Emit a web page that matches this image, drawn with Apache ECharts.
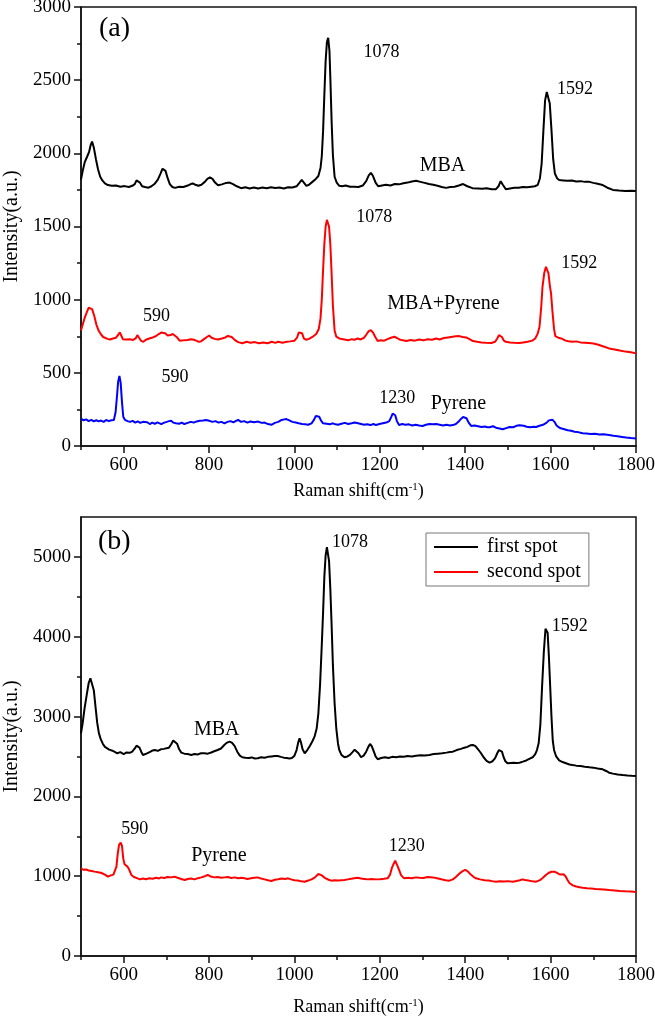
<!DOCTYPE html>
<html><head><meta charset="utf-8">
<script src="https://cdn.jsdelivr.net/npm/echarts@6/dist/echarts.min.js"></script>
<style>html,body{margin:0;padding:0;background:#fff}#c{width:655px;height:1020px}</style>
</head><body><div id="c"></div>
<script>
// ---------- tick values ----------
const xMajorTicks = [600, 800, 1000, 1200, 1400, 1600, 1800];
const xMinorTicks = [500, 700, 900, 1100, 1300, 1500, 1700];
const yMajorA = [0, 500, 1000, 1500, 2000, 2500, 3000];
const yMinorA = [250, 750, 1250, 1750, 2250, 2750];
const yMajorB = [0, 1000, 2000, 3000, 4000, 5000];
const yMinorB = [500, 1500, 2500, 3500, 4500];

// ---------- panel (a) series ----------
const mbaA = [[500,1820],[504,1880],[509,1942],[514,1975],[519,2010],[523,2060],[526,2080],[530,2040],[535,1960],[540,1890],[545,1840],[550,1815],[556,1795],[563,1783],[572,1778],[582,1780],[592,1772],[602,1776],[612,1770],[620,1778],[626,1790],[630,1815],[634,1824],[638,1800],[643,1775],[650,1770],[658,1765],[665,1775],[672,1790],[680,1820],[686,1860],[691,1895],[694,1908],[698,1880],[703,1830],[708,1790],[714,1770],[720,1764],[730,1772],[740,1770],[750,1780],[757,1790],[762,1794],[768,1785],[775,1778],[782,1785],[790,1805],[796,1825],[802,1835],[808,1825],[814,1800],[821,1782],[830,1788],[840,1798],[848,1800],[856,1790],[865,1775],[875,1762],[885,1768],[895,1760],[905,1766],[915,1760],[925,1766],[935,1762],[945,1768],[955,1763],[965,1766],[975,1760],[985,1768],[995,1766],[1005,1775],[1012,1800],[1017,1818],[1022,1800],[1028,1778],[1034,1785],[1042,1805],[1050,1825],[1056,1845],[1061,1900],[1064,1980],[1067,2150],[1070,2400],[1073,2630],[1076,2760],[1079,2790],[1082,2700],[1084,2520],[1087,2220],[1090,1990],[1094,1840],[1099,1800],[1105,1778],[1112,1775],[1120,1780],[1130,1772],[1140,1772],[1150,1770],[1160,1780],[1168,1810],[1174,1850],[1179,1867],[1184,1845],[1190,1800],[1196,1775],[1205,1780],[1214,1785],[1225,1780],[1235,1790],[1245,1788],[1255,1795],[1265,1800],[1275,1808],[1285,1812],[1295,1805],[1305,1798],[1315,1790],[1325,1785],[1335,1778],[1345,1770],[1355,1764],[1365,1770],[1375,1772],[1385,1780],[1395,1790],[1405,1775],[1417,1762],[1430,1760],[1440,1758],[1450,1762],[1462,1755],[1472,1755],[1478,1775],[1483,1810],[1488,1785],[1495,1755],[1505,1760],[1515,1765],[1525,1765],[1535,1770],[1545,1768],[1555,1772],[1563,1775],[1570,1785],[1575,1830],[1579,1930],[1583,2150],[1587,2360],[1591,2420],[1594,2420],[1598,2340],[1602,2160],[1606,1960],[1610,1862],[1615,1830],[1620,1818],[1630,1815],[1640,1812],[1650,1814],[1660,1808],[1670,1810],[1680,1805],[1691,1805],[1700,1798],[1710,1792],[1722,1783],[1733,1765],[1746,1750],[1760,1746],[1775,1742],[1790,1744],[1800,1742]];

const mbaPyreneA = [[500,790],[504,830],[508,870],[513,910],[518,945],[522,950],[526,935],[531,890],[536,830],[541,790],[547,762],[552,745],[556,735],[562,732],[568,728],[575,735],[582,740],[587,760],[591,776],[595,750],[598,730],[605,728],[614,730],[622,725],[628,735],[632,758],[636,740],[641,718],[646,712],[652,726],[660,735],[668,742],[675,750],[682,765],[688,775],[692,781],[697,770],[703,755],[710,758],[715,766],[719,770],[724,745],[731,720],[740,722],[750,725],[757,730],[762,728],[770,720],[776,712],[781,715],[788,730],[795,745],[800,755],[806,740],[813,732],[821,728],[830,735],[838,742],[844,752],[848,755],[853,745],[860,725],[868,710],[878,702],[888,712],[897,705],[907,710],[917,702],[927,708],[937,702],[947,712],[955,705],[962,712],[972,706],[982,712],[990,715],[1000,720],[1006,740],[1010,775],[1014,788],[1018,770],[1022,735],[1027,726],[1034,732],[1042,745],[1051,765],[1057,800],[1061,872],[1064,1000],[1067,1202],[1070,1380],[1073,1500],[1076,1545],[1078,1550],[1081,1500],[1084,1380],[1087,1180],[1090,960],[1094,790],[1098,747],[1105,735],[1117,728],[1126,722],[1134,730],[1141,726],[1148,735],[1155,728],[1162,738],[1168,760],[1174,785],[1179,792],[1184,775],[1190,742],[1195,718],[1202,722],[1210,720],[1218,730],[1226,740],[1234,747],[1240,738],[1246,728],[1254,722],[1262,718],[1272,725],[1282,720],[1292,728],[1302,722],[1312,730],[1322,726],[1332,735],[1340,728],[1350,738],[1360,742],[1370,746],[1378,750],[1386,751],[1394,745],[1402,742],[1410,730],[1418,717],[1428,712],[1438,708],[1448,706],[1461,704],[1470,712],[1475,735],[1479,758],[1482,765],[1486,745],[1490,722],[1495,712],[1505,708],[1515,706],[1526,704],[1536,708],[1546,712],[1557,720],[1564,735],[1570,770],[1574,815],[1578,950],[1581,1088],[1585,1180],[1589,1225],[1592,1225],[1595,1180],[1598,1100],[1601,1043],[1604,930],[1608,800],[1611,751],[1618,740],[1625,735],[1628,730],[1635,720],[1642,716],[1651,712],[1660,715],[1670,708],[1680,706],[1690,704],[1700,700],[1712,692],[1724,680],[1737,667],[1750,660],[1762,652],[1775,645],[1788,640],[1800,633]];

const pyreneA = [[500,188],[506,175],[512,182],[518,170],[524,178],[530,168],[536,176],[541,168],[547,174],[553,165],[559,178],[565,170],[571,176],[577,178],[581,230],[584,330],[587,440],[590,478],[593,430],[596,300],[599,200],[603,178],[609,170],[615,165],[621,172],[627,160],[633,168],[639,158],[645,165],[649,155],[655,162],[661,150],[667,160],[673,152],[679,162],[688,150],[695,160],[701,165],[706,170],[711,172],[716,160],[722,155],[730,152],[736,160],[742,150],[750,158],[757,165],[764,160],[771,168],[778,172],[786,175],[793,178],[800,172],[808,165],[815,170],[822,160],[829,165],[836,155],[843,165],[850,170],[857,162],[863,172],[868,178],[875,165],[882,170],[890,160],[897,168],[905,162],[915,167],[923,158],[930,160],[938,150],[946,145],[954,158],[962,165],[970,178],[976,182],[981,184],[988,175],[995,165],[1003,160],[1010,155],[1018,150],[1025,148],[1032,145],[1040,155],[1046,180],[1050,205],[1054,218],[1058,200],[1062,175],[1067,155],[1075,152],[1083,148],[1090,155],[1096,148],[1102,145],[1110,152],[1118,158],[1126,150],[1134,155],[1141,160],[1149,155],[1156,150],[1163,145],[1170,148],[1178,143],[1185,150],[1191,143],[1199,150],[1207,155],[1215,160],[1222,170],[1227,200],[1230,222],[1233,228],[1236,210],[1240,170],[1245,143],[1252,150],[1260,145],[1268,148],[1276,140],[1284,145],[1292,140],[1300,137],[1308,145],[1316,150],[1324,148],[1332,150],[1340,145],[1348,140],[1356,145],[1364,140],[1371,143],[1378,150],[1384,165],[1390,185],[1395,198],[1399,200],[1403,190],[1408,160],[1414,137],[1422,140],[1430,135],[1438,130],[1446,133],[1452,128],[1457,128],[1465,135],[1472,125],[1480,120],[1488,114],[1496,122],[1504,130],[1512,128],[1520,138],[1527,142],[1531,145],[1537,138],[1544,132],[1552,128],[1560,132],[1566,130],[1574,138],[1582,145],[1590,158],[1596,175],[1600,182],[1604,180],[1609,165],[1614,140],[1619,128],[1624,121],[1632,115],[1640,108],[1648,104],[1656,98],[1664,95],[1675,87],[1684,85],[1694,82],[1704,84],[1714,78],[1724,80],[1737,75],[1747,70],[1757,66],[1767,62],[1777,58],[1788,55],[1800,52]];

// ---------- panel (b) series ----------
const firstSpotB = [[500,2790],[504,2920],[508,3090],[513,3260],[518,3420],[522,3480],[526,3460],[530,3330],[534,3120],[538,2920],[542,2790],[546,2720],[551,2660],[556,2620],[560,2602],[566,2585],[572,2575],[578,2560],[585,2540],[592,2555],[600,2530],[607,2550],[614,2545],[620,2560],[626,2600],[630,2635],[633,2644],[637,2610],[641,2560],[645,2519],[651,2530],[657,2545],[663,2560],[668,2575],[673,2581],[680,2570],[687,2590],[694,2595],[700,2602],[706,2610],[711,2650],[716,2700],[720,2706],[725,2660],[730,2590],[735,2548],[742,2535],[750,2530],[758,2519],[766,2530],[773,2525],[781,2540],[789,2540],[797,2535],[805,2550],[812,2565],[820,2581],[828,2600],[835,2640],[841,2670],[848,2685],[854,2670],[860,2630],[866,2560],[872,2510],[878,2490],[885,2485],[893,2480],[900,2488],[907,2475],[914,2477],[922,2490],[930,2485],[938,2495],[946,2500],[954,2505],[961,2506],[968,2495],[975,2485],[982,2480],[988,2475],[994,2480],[1000,2510],[1005,2580],[1009,2680],[1012,2727],[1015,2680],[1019,2590],[1024,2540],[1030,2580],[1036,2630],[1042,2690],[1047,2748],[1052,2850],[1056,3041],[1060,3400],[1064,3900],[1067,4300],[1070,4750],[1073,5020],[1076,5121],[1078,5125],[1081,4950],[1084,4600],[1087,4150],[1090,3650],[1094,3166],[1098,2850],[1102,2660],[1105,2581],[1110,2520],[1117,2490],[1124,2500],[1130,2520],[1136,2555],[1141,2585],[1145,2580],[1150,2540],[1156,2490],[1162,2510],[1168,2560],[1173,2620],[1177,2656],[1181,2630],[1186,2560],[1190,2500],[1195,2465],[1203,2480],[1212,2490],[1220,2480],[1229,2495],[1238,2490],[1247,2500],[1256,2495],[1265,2505],[1275,2500],[1285,2510],[1295,2515],[1305,2512],[1316,2519],[1326,2530],[1336,2535],[1346,2540],[1356,2548],[1364,2555],[1371,2560],[1380,2580],[1390,2595],[1398,2610],[1405,2620],[1412,2640],[1418,2644],[1424,2630],[1430,2590],[1437,2540],[1443,2490],[1450,2445],[1457,2422],[1464,2440],[1470,2480],[1475,2540],[1479,2580],[1482,2588],[1486,2560],[1490,2490],[1494,2440],[1499,2415],[1506,2418],[1513,2420],[1520,2418],[1527,2422],[1535,2435],[1543,2450],[1550,2470],[1558,2490],[1564,2530],[1568,2580],[1572,2665],[1576,2900],[1580,3375],[1584,3800],[1588,4100],[1590,4118],[1593,4050],[1596,3750],[1598,3500],[1602,3000],[1605,2700],[1608,2581],[1613,2500],[1620,2450],[1628,2430],[1636,2415],[1644,2400],[1651,2393],[1660,2385],[1670,2380],[1680,2372],[1691,2364],[1700,2360],[1710,2350],[1722,2339],[1730,2318],[1737,2297],[1746,2285],[1757,2275],[1769,2268],[1780,2262],[1790,2258],[1800,2255]];

const secondSpotB = [[500,1099],[506,1080],[512,1085],[518,1070],[525,1065],[532,1057],[540,1050],[548,1040],[556,1020],[563,994],[570,1010],[576,1020],[580,1036],[583,1120],[586,1280],[589,1390],[593,1420],[596,1380],[599,1220],[602,1150],[606,1130],[609,1120],[613,1080],[618,1015],[624,990],[631,975],[638,960],[645,970],[652,962],[660,975],[668,968],[676,980],[683,972],[688,985],[695,978],[703,990],[711,985],[719,994],[726,980],[735,965],[743,952],[750,965],[758,972],[766,960],[774,975],[782,985],[790,1000],[797,1015],[804,995],[812,985],[820,990],[828,980],[836,985],[844,990],[852,978],[860,985],[868,975],[876,980],[883,973],[890,965],[898,975],[906,980],[914,985],[922,970],[930,960],[938,948],[946,940],[954,955],[962,962],[970,970],[978,965],[985,973],[992,960],[1000,950],[1008,945],[1016,935],[1024,931],[1032,945],[1040,960],[1048,985],[1056,1027],[1064,1010],[1072,975],[1080,955],[1086,944],[1094,950],[1102,945],[1110,950],[1117,952],[1125,960],[1133,968],[1140,975],[1148,980],[1156,970],[1164,965],[1172,960],[1180,965],[1191,960],[1200,962],[1210,968],[1218,973],[1224,1020],[1228,1100],[1232,1150],[1236,1194],[1239,1170],[1242,1120],[1245,1078],[1250,1010],[1257,973],[1266,980],[1275,975],[1284,985],[1293,980],[1302,978],[1312,990],[1324,985],[1334,975],[1344,962],[1354,950],[1363,944],[1371,960],[1378,990],[1386,1030],[1393,1060],[1400,1078],[1406,1060],[1413,1020],[1420,990],[1425,973],[1435,960],[1445,950],[1455,945],[1463,938],[1472,931],[1481,935],[1491,932],[1500,938],[1511,931],[1520,940],[1528,950],[1534,960],[1540,952],[1548,945],[1557,935],[1566,931],[1575,950],[1582,980],[1589,1015],[1595,1040],[1602,1055],[1609,1057],[1615,1040],[1620,1025],[1625,1020],[1630,1025],[1635,1000],[1640,950],[1644,915],[1652,885],[1660,870],[1668,862],[1675,856],[1685,850],[1695,845],[1705,840],[1715,836],[1725,832],[1737,827],[1750,822],[1762,815],[1775,810],[1788,808],[1800,802]];

// ---------- annotations [x, y, text] ----------
const annotationsA = [[1204,2693,'1078'],[1657,2436,'1592'],[1347,1912,'MBA'],[1187,1566,'1078'],[1667,1248,'1592'],[1349,975,'MBA+Pyrene'],[677,888,'590'],[720,473,'590'],[1241,326,'1230'],[1384,292,'Pyrene']];
const annotationsB = [[1130,5184,'1078'],[1645,4126,'1592'],[818,2832,'MBA'],[626,1591,'590'],[823,1253,'Pyrene'],[1263,1370,'1230']];

const FONT = "'Liberation Serif','Times New Roman',serif";
const AX = '#111';
const plain = v => String(v);

function xAxes(gi, gap) {
  return [{
    gridIndex: gi, type: 'value', min: 500, max: 1800,
    axisLine: {show: true, onZero: false, lineStyle: {color: AX, width: 1.5}},
    axisTick: {show: true, length: 7, customValues: xMajorTicks, lineStyle: {color: AX, width: 1.5}},
    axisLabel: {customValues: xMajorTicks, formatter: plain, fontFamily: FONT, fontSize: 19, color: '#000', margin: 10},
    splitLine: {show: false},
    name: '{a|Raman shift(cm}{s|-1}{a|)}', nameLocation: 'middle', nameGap: gap,
    nameTextStyle: {fontFamily: FONT, fontSize: 18, color: '#000',
      rich: {a: {fontFamily: FONT, fontSize: 18, color: '#000'},
             s: {fontFamily: FONT, fontSize: 11, color: '#000', verticalAlign: 'top', padding: [0, 0, 8, 0]}}}
  }, {
    gridIndex: gi, type: 'value', min: 500, max: 1800, position: 'bottom',
    axisLine: {show: false},
    axisTick: {show: true, length: 4, customValues: xMinorTicks, lineStyle: {color: AX, width: 1.5}},
    axisLabel: {show: false}, splitLine: {show: false}
  }];
}
function yAxes(gi, max, major, minor) {
  return [{
    gridIndex: gi, type: 'value', min: 0, max: max,
    axisLine: {show: true, onZero: false, lineStyle: {color: AX, width: 1.5}},
    axisTick: {show: true, length: 7, customValues: major, lineStyle: {color: AX, width: 1.5}},
    axisLabel: {customValues: major, formatter: plain, fontFamily: FONT, fontSize: 19, color: '#000', margin: 10},
    splitLine: {show: false},
    name: 'Intensity(a.u.)', nameLocation: 'middle', nameGap: 58,
    nameTextStyle: {fontFamily: FONT, fontSize: 20, color: '#000'}
  }, {
    gridIndex: gi, type: 'value', min: 0, max: max, position: 'left',
    axisLine: {show: false},
    axisTick: {show: true, length: 4, customValues: minor, lineStyle: {color: AX, width: 1.5}},
    axisLabel: {show: false}, splitLine: {show: false}
  }];
}
function lineSeries(name, data, color, xi, yi) {
  return {name, type: 'line', data, xAxisIndex: xi, yAxisIndex: yi, showSymbol: false, symbol: 'none',
    lineStyle: {color, width: 2}, itemStyle: {color}, smooth: false, animation: false, z: 3};
}
function annSeries(list, xi, yi) {
  return {type: 'scatter', xAxisIndex: xi, yAxisIndex: yi, symbolSize: 0, silent: true, animation: false, z: 5,
    itemStyle: {opacity: 1, color: '#000'},
    data: list.map(a => ({value: [a[0], a[1]], label: {show: true, position: 'inside', formatter: a[2],
      fontFamily: FONT, color: '#000', opacity: 1, fontSize: /^\d+$/.test(a[2]) ? 18 : 20}}))};
}

const chart = echarts.init(document.getElementById('c'), null, {renderer: 'canvas'});
chart.setOption({
  backgroundColor: '#fff',
  animation: false,
  title: [
    {text: '(a)', left: 99, top: 15, padding: 0, textStyle: {fontFamily: FONT, fontSize: 28, fontWeight: 'normal', color: '#000'}},
    {text: '(b)', left: 98, top: 528, padding: 0, textStyle: {fontFamily: FONT, fontSize: 28, fontWeight: 'normal', color: '#000'}}
  ],
  legend: {
    data: ['first spot', 'second spot'], orient: 'vertical', left: 426, top: 533,
    icon: 'rect', itemWidth: 44, itemHeight: 2, itemGap: 5, padding: [4, 8, 4, 8],
    borderColor: '#777', borderWidth: 1,
    textStyle: {fontFamily: FONT, fontSize: 20, color: '#000', padding: [0, 0, 0, 4]}
  },
  grid: [
    {left: 81, right: 19, top: 7, height: 439, outerBoundsMode: 'none', containLabel: false, show: true, borderColor: AX, borderWidth: 1.5, backgroundColor: 'transparent'},
    {left: 81, right: 19, top: 517, height: 439, outerBoundsMode: 'none', containLabel: false, show: true, borderColor: AX, borderWidth: 1.5, backgroundColor: 'transparent'}
  ],
  xAxis: [...xAxes(0, 36), ...xAxes(1, 42)],
  yAxis: [...yAxes(0, 3000, yMajorA, yMinorA), ...yAxes(1, 5500, yMajorB, yMinorB)],
  series: [
    lineSeries('MBA', mbaA, '#000000', 0, 0),
    lineSeries('MBA+Pyrene', mbaPyreneA, '#ff0000', 0, 0),
    lineSeries('Pyrene', pyreneA, '#0000ff', 0, 0),
    lineSeries('first spot', firstSpotB, '#000000', 2, 2),
    lineSeries('second spot', secondSpotB, '#ff0000', 2, 2),
    annSeries(annotationsA, 0, 0),
    annSeries(annotationsB, 2, 2)
  ]
});
</script></body></html>
